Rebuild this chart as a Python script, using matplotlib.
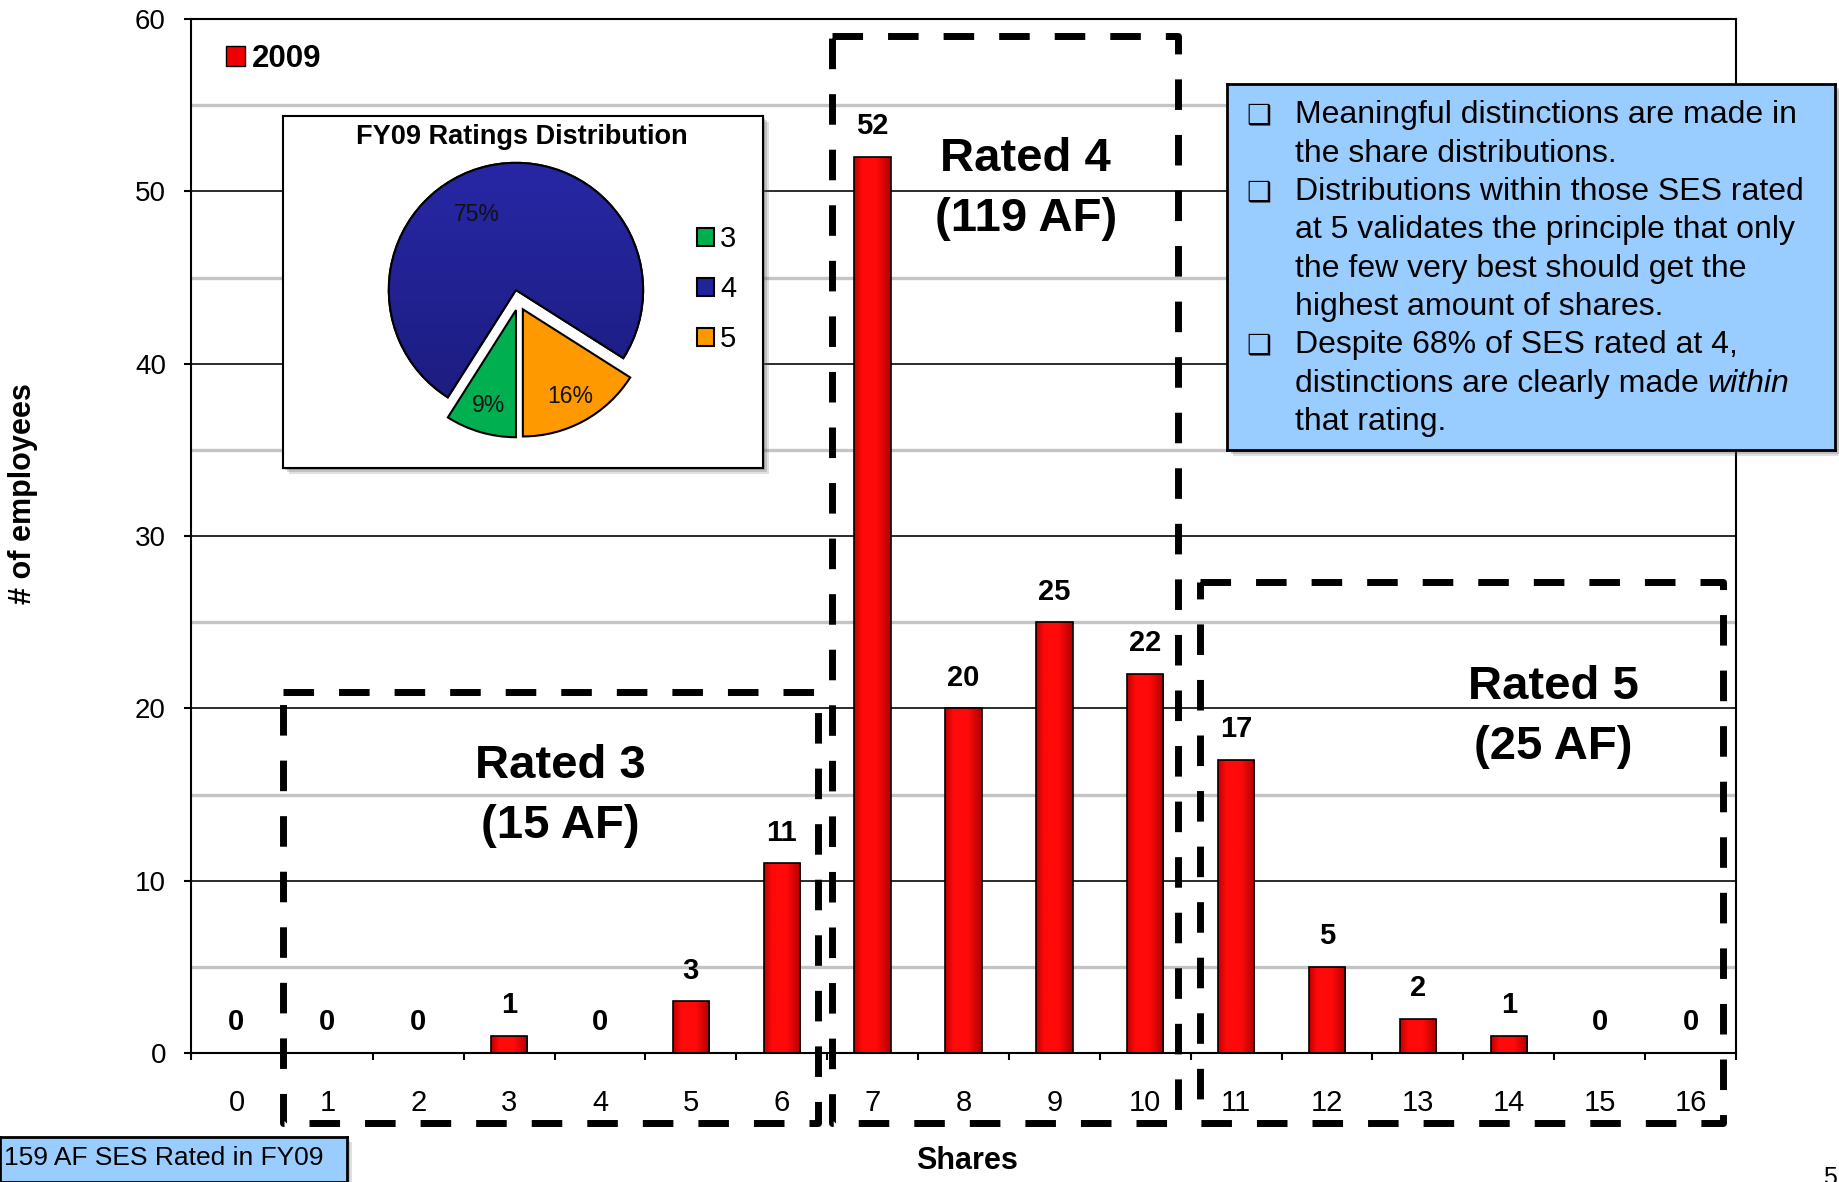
import numpy as np
import matplotlib
matplotlib.use("Agg")
import matplotlib.pyplot as plt
from matplotlib.patches import Rectangle, Patch, Wedge
from matplotlib.colors import LinearSegmentedColormap
from matplotlib.lines import Line2D

plt.rcParams['font.family'] = ['Liberation Sans', 'DejaVu Sans']

# ---- data -------------------------------------------------------------
shares = list(range(17))
employees = [0, 0, 0, 1, 0, 3, 11, 52, 20, 25, 22, 17, 5, 2, 1, 0, 0]
series_label = '2009'

rating_names = ['3', '4', '5']
rating_pcts = [9, 75, 16]
rating_colors = ['#00B050', '#22229C', '#FF9900']

# rating groups: (rating, first share, last share)
rating_groups = [(3, 1, 6), (4, 7, 10), (5, 11, 16)]

bullets = [
    ["Meaningful distinctions are made in", "the share distributions."],
    ["Distributions within those SES rated", "at 5 validates the principle that only",
     "the few very best should get the", "highest amount of shares."],
    ["Despite 68% of SES rated at 4,", ("distinctions are clearly made ", "within"), "that rating."],
]

# ---- figure -----------------------------------------------------------
W, H = 1839, 1182
fig = plt.figure(figsize=(W / 100, H / 100), dpi=100)
fig.patch.set_facecolor('white')


def fx(px):
    return px / W


def fy(py):
    return 1 - py / H


ax = fig.add_axes([fx(191), fy(1053), 1545 / W, 1034 / H], zorder=1)
ax.set_xlim(-0.5, 16.5)
ax.set_ylim(0, 60)

# gridlines
ax.set_yticks(range(0, 61, 10))
ax.set_yticks(range(5, 60, 10), minor=True)
ax.yaxis.grid(True, which='major', color='#1a1a1a', lw=1.3, zorder=0)
ax.yaxis.grid(True, which='minor', color='#C4C4C4', lw=2.4, zorder=0)
ax.set_axisbelow(True)
ax.tick_params(axis='y', which='major', length=5, width=1.5, pad=13, labelsize=20)
ax.tick_params(axis='y', which='minor', length=0)

ax.set_xticks(shares)
ax.set_xticklabels([str(s) for s in shares])
ax.set_xticks(np.arange(-0.5, 17, 1), minor=True)
ax.tick_params(axis='x', which='major', length=0, pad=26, labelsize=21)
ax.tick_params(axis='x', which='minor', length=5, width=1.5)
for sp in ax.spines.values():
    sp.set_linewidth(1.5)
    sp.set_color('black')

# bars with a horizontal red shading
bar_cmap = LinearSegmentedColormap.from_list(
    'barred', [(0.0, '#C00000'), (0.22, '#FF0A0A'), (0.62, '#FF0A0A'), (1.0, '#B00000')])
grad = np.linspace(0, 1, 256).reshape(1, -1)
bars = ax.bar(shares, employees, width=0.4, facecolor='none', edgecolor='black',
              linewidth=1.2, zorder=3)
for b in bars:
    if b.get_height() <= 0:
        continue
    x0, y0 = b.get_x(), b.get_y()
    im = ax.imshow(grad, cmap=bar_cmap, aspect='auto', zorder=2.5,
                   extent=[x0, x0 + b.get_width(), y0, y0 + b.get_height()])
    im.set_clip_path(b)
ax.set_xlim(-0.5, 16.5)
ax.set_ylim(0, 60)

for s, v in zip(shares, employees):
    ax.annotate(str(v), (s, v), xytext=(0, 22), textcoords='offset points',
                ha='center', va='center', fontsize=21, fontweight='bold', zorder=5)

leg = ax.legend(handles=[Patch(facecolor='#F00000', edgecolor='black', label=series_label)],
                loc='center left', bbox_to_anchor=(fx(226), fy(59)),
                bbox_transform=fig.transFigure, frameon=False,
                prop={'weight': 'bold', 'size': 22.5}, handlelength=0.6, handleheight=0.6,
                handletextpad=0.22, borderpad=0, borderaxespad=0)
leg.set_zorder(8)

# dashed group outlines with their totals
box_pads = {3: (0.491, 0.399, 20.95), 4: (0.447, 0.36, 59.03), 5: (0.40, 0.36, 27.34)}
text_pos = {3: (3.567, 14.9), 4: (8.686, 50.15), 5: (14.49, 19.48)}
for rating, first, last in rating_groups:
    lp, rp, top = box_pads[rating]
    x0, x1, y0 = first - lp, last + rp, -4.06
    ln = Line2D([x0, x1, x1, x0, x0], [top, top, y0, y0, top], color='black', lw=5,
                linestyle=(0, (4.4, 3.6)), solid_joinstyle='round', dash_joinstyle='round',
                dash_capstyle='butt', clip_on=False, zorder=6)
    ax.add_line(ln)
    total = sum(employees[first:last + 1])
    tx, ty = text_pos[rating]
    ax.text(tx, ty, f'Rated {rating}\n({total} AF)', ha='center', va='center',
            fontsize=34, fontweight='bold', linespacing=1.46, zorder=7)

fig.text(fx(967), fy(1161), 'Shares', ha='center', va='center', fontsize=22, fontweight='bold')
fig.text(fx(23), fy(494), '# of employees', ha='center', va='center', rotation=90,
         fontsize=22, fontweight='bold')


def shadow_box(x0, y0, x1, y1, z, off=6):
    for k, a in zip((off, off - 2, off - 4), (0.18, 0.22, 0.3)):
        fig.add_artist(Rectangle((fx(x0 + k), fy(y1 + k)), (x1 - x0) / W, (y1 - y0) / H,
                                 transform=fig.transFigure, facecolor='#555555',
                                 edgecolor='none', alpha=a, zorder=z))


# ---- inset pie -----------------------------------------------------------
shadow_box(283, 116, 763, 468, 9)
inset = fig.add_axes([fx(283), fy(468), 480 / W, 352 / H], zorder=10)
inset.set_facecolor('white')
inset.set_xticks([])
inset.set_yticks([])
for sp in inset.spines.values():
    sp.set_linewidth(1.5)

cx, cy, side = 518.5, 301.4, 356
pax = fig.add_axes([fx(cx - side / 2), fy(cy + side / 2), side / W, side / H], zorder=11)
pax.set_xlim(-1.4, 1.4)
pax.set_ylim(-1.4, 1.4)
pax.axis('off')
wedges, _, autotexts = pax.pie(rating_pcts, colors=rating_colors, startangle=270,
                               counterclock=False, explode=[0.071, 0.092, 0.071],
                               autopct=lambda p: f'{p:.0f}%', pctdistance=0.78,
                               wedgeprops={'edgecolor': 'black', 'linewidth': 1.5},
                               textprops={'fontsize': 16.5, 'color': '#111111'}, radius=1.0)
pax.set_xlim(-1.4, 1.4)
pax.set_ylim(-1.4, 1.4)
pax.set_aspect('auto')

# vertical shading on the largest slice
blue = wedges[1]
bcmap = LinearSegmentedColormap.from_list('pieblue', ['#1A1A78', '#2828A8'])
vgrad = np.linspace(0, 1, 256).reshape(-1, 1)
bim = pax.imshow(vgrad, cmap=bcmap, origin='lower', aspect='auto', zorder=blue.get_zorder() + 0.1,
                 extent=[-1.2, 1.2, -1.2, 1.2])
bim.set_clip_path(blue)
pax.add_patch(Wedge(blue.center, blue.r, blue.theta1, blue.theta2, fill=False,
                    edgecolor='black', lw=1.5, zorder=blue.get_zorder() + 0.2))
pax.set_xlim(-1.4, 1.4)
pax.set_ylim(-1.4, 1.4)
bx, by = blue.center
ang = np.deg2rad(117.7)
autotexts[1].set_position((bx + 0.668 * np.cos(ang), by + 0.668 * np.sin(ang)))
for t in autotexts:
    t.set_zorder(blue.get_zorder() + 0.3)

fig.text(fx(522), fy(137), 'FY09 Ratings Distribution', ha='center', va='center',
         fontsize=19.5, fontweight='bold', zorder=12)
pleg = pax.legend(wedges, rating_names, loc='center left',
                  bbox_to_anchor=(fx(696.6), fy(289)), bbox_transform=fig.transFigure,
                  frameon=False, fontsize=21, handlelength=0.58, handleheight=0.58,
                  handletextpad=0.22, labelspacing=0.75, borderpad=0, borderaxespad=0)

# ---- note box ------------------------------------------------------------
shadow_box(1227, 84, 1835, 450, 9)
note = fig.add_axes([fx(1227), fy(450), 608 / W, 366 / H], zorder=10)
note.set_facecolor('#99CCFF')
note.set_xticks([])
note.set_yticks([])
for sp in note.spines.values():
    sp.set_linewidth(2)

renderer = fig.canvas.get_renderer()
line_h = 38.35
base0 = 123.3
text_x = 1295
row = 0
for items in bullets:
    fig.text(fx(1246), fy(base0 + row * line_h), '\u2751', fontsize=20, va='baseline',
             ha='left', family=['DejaVu Sans'], zorder=12)
    for item in items:
        yb = fy(base0 + row * line_h)
        if isinstance(item, tuple):
            t = fig.text(fx(text_x), yb, item[0], fontsize=23, va='baseline', zorder=12)
            bb = t.get_window_extent(renderer)
            fig.text(bb.x1 / W, yb, item[1], fontsize=23, va='baseline', style='italic',
                     zorder=12)
        else:
            fig.text(fx(text_x), yb, item, fontsize=23, va='baseline', zorder=12)
        row += 1

# ---- footer --------------------------------------------------------------
shadow_box(0, 1137, 347, 1190, 9, off=5)
foot = fig.add_axes([0, 0, 347 / W, (H - 1137) / H], zorder=10)
foot.set_facecolor('#99CCFF')
foot.set_xticks([])
foot.set_yticks([])
for sp in foot.spines.values():
    sp.set_linewidth(2)
fig.text(fx(4), fy(1158), f'{sum(employees)} AF SES Rated in FY09', ha='left',
         va='center', fontsize=19, zorder=12)
fig.text(fx(1823), fy(1166), '5', ha='left', va='top', fontsize=18)

fig.savefig('out.png', dpi=100)
